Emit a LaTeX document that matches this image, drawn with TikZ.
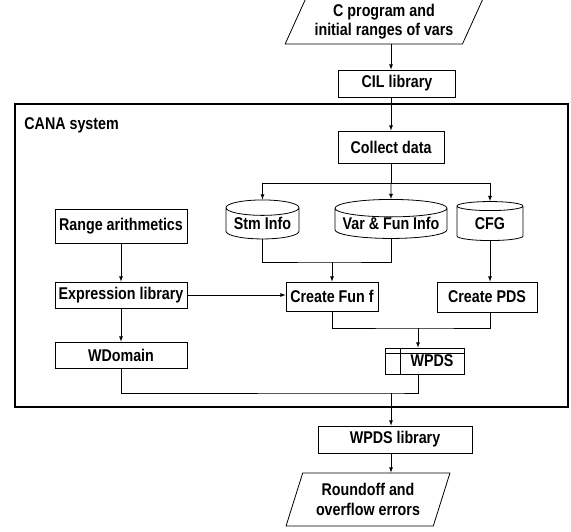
\documentclass[tikz,border=0pt]{standalone}
\usepackage{fontspec}
\setmainfont{Liberation Sans}[FakeStretch=0.84]
\usepackage{tikz}
\usetikzlibrary{shapes.geometric}

\begin{document}
\begin{tikzpicture}[x=1pt, y=-1pt, line width=.8pt,
  every node/.style={font=\fontsize{17}{19.5}\selectfont\bfseries, inner sep=0, align=center},
  box/.style={draw, rectangle, minimum width=#1},
  store/.style={draw, cylinder, shape border rotate=90, minimum height=39},
  io/.style={draw, trapezium, trapezium stretches=true},
  arr/.style={-latex}]
\useasboundingbox (0,0) rectangle (571,531);
\coordinate (axis) at (391,0);
\node[io, trapezium left angle=63, trapezium right angle=117, minimum width=198, minimum height=45] (in) at (384,21.5) {C program and\\initial ranges of vars};
\node[box=117, minimum height=27] (cil) at (397,83.5) {CIL library};
\node[draw, line width=1.2pt, minimum width=553, minimum height=303] (sys) at (291.5,255.5) {};
\node[anchor=west] (sysname) at (24,125) {CANA system};
\node[box=106, minimum height=32] (collect) at (391,147) {Collect data};
\node[box=132, minimum height=34] (range) at (121,226) {Range arithmetics};
\node[store, minimum width=73, aspect=.27] (stm) at (262.5,223.5) {Stm Info};
\node[store, minimum width=112, aspect=.18] (varfun) at (391,223.5) {Var \& Fun Info};
\node[store, minimum width=66, aspect=.3] (cfg) at (490,223.5) {CFG};
\node[box=132, minimum height=26] (expr) at (121,295) {Expression library};
\node[box=92, minimum height=29] (funf) at (332,296.5) {Create Fun f};
\node[box=100, minimum height=30] (pds) at (487,297) {Create PDS};
\node[box=132, minimum height=26] (wdom) at (121,355) {WDomain};
\node[box=79, minimum height=26, path picture={
  \draw ([yshift=-5pt]path picture bounding box.north west) -- ([yshift=-5pt]path picture bounding box.north east);
  \draw ([xshift=15pt]path picture bounding box.north west) -- ([xshift=15pt]path picture bounding box.south west);}] (wpds) at (424.5,361) {\hspace*{15pt}WPDS};
\node[box=154, minimum height=27] (lib) at (395,439.5) {WPDS library};
\node[io, trapezium left angle=67.5, trapezium right angle=112.5, minimum width=164, minimum height=53] (out) at (368,499.5) {Roundoff and\\overflow errors};
\coordinate (split) at (391,183);
\coordinate (join1) at (332,262);
\coordinate (join2) at (418,328);
\coordinate (join3) at (391,393);
\draw[arr] (in.south -| axis) -- (cil.north -| axis);
\draw[arr] (cil.south -| axis) -- (collect.north -| axis);
\draw (collect.south -| axis) -- (split);
\draw[arr] (split) -| (stm.north);
\draw[arr] (split) -- (varfun.north);
\draw[arr] (split) -| (cfg.north);
\draw (stm.south) |- (join1) -| (varfun.south);
\draw[arr] (join1) -- (funf.north);
\draw[arr] (range) -- (expr);
\draw[arr] (expr) -- (wdom);
\draw[arr] (expr.east) -- (expr.east -| funf.west);
\draw[arr] (cfg.south) -- (cfg.south |- pds.north);
\draw (funf.south) |- (join2) -| (pds.south -| cfg.south);
\draw[arr] (join2) -- (join2 |- wpds.north);
\draw (wdom.south) |- (join3) -| (join2 |- wpds.south);
\draw[arr] (join3) -- (lib.north -| join3);
\draw[arr] (lib.south -| axis) -- (out.north -| axis);
\end{tikzpicture}
\end{document}
